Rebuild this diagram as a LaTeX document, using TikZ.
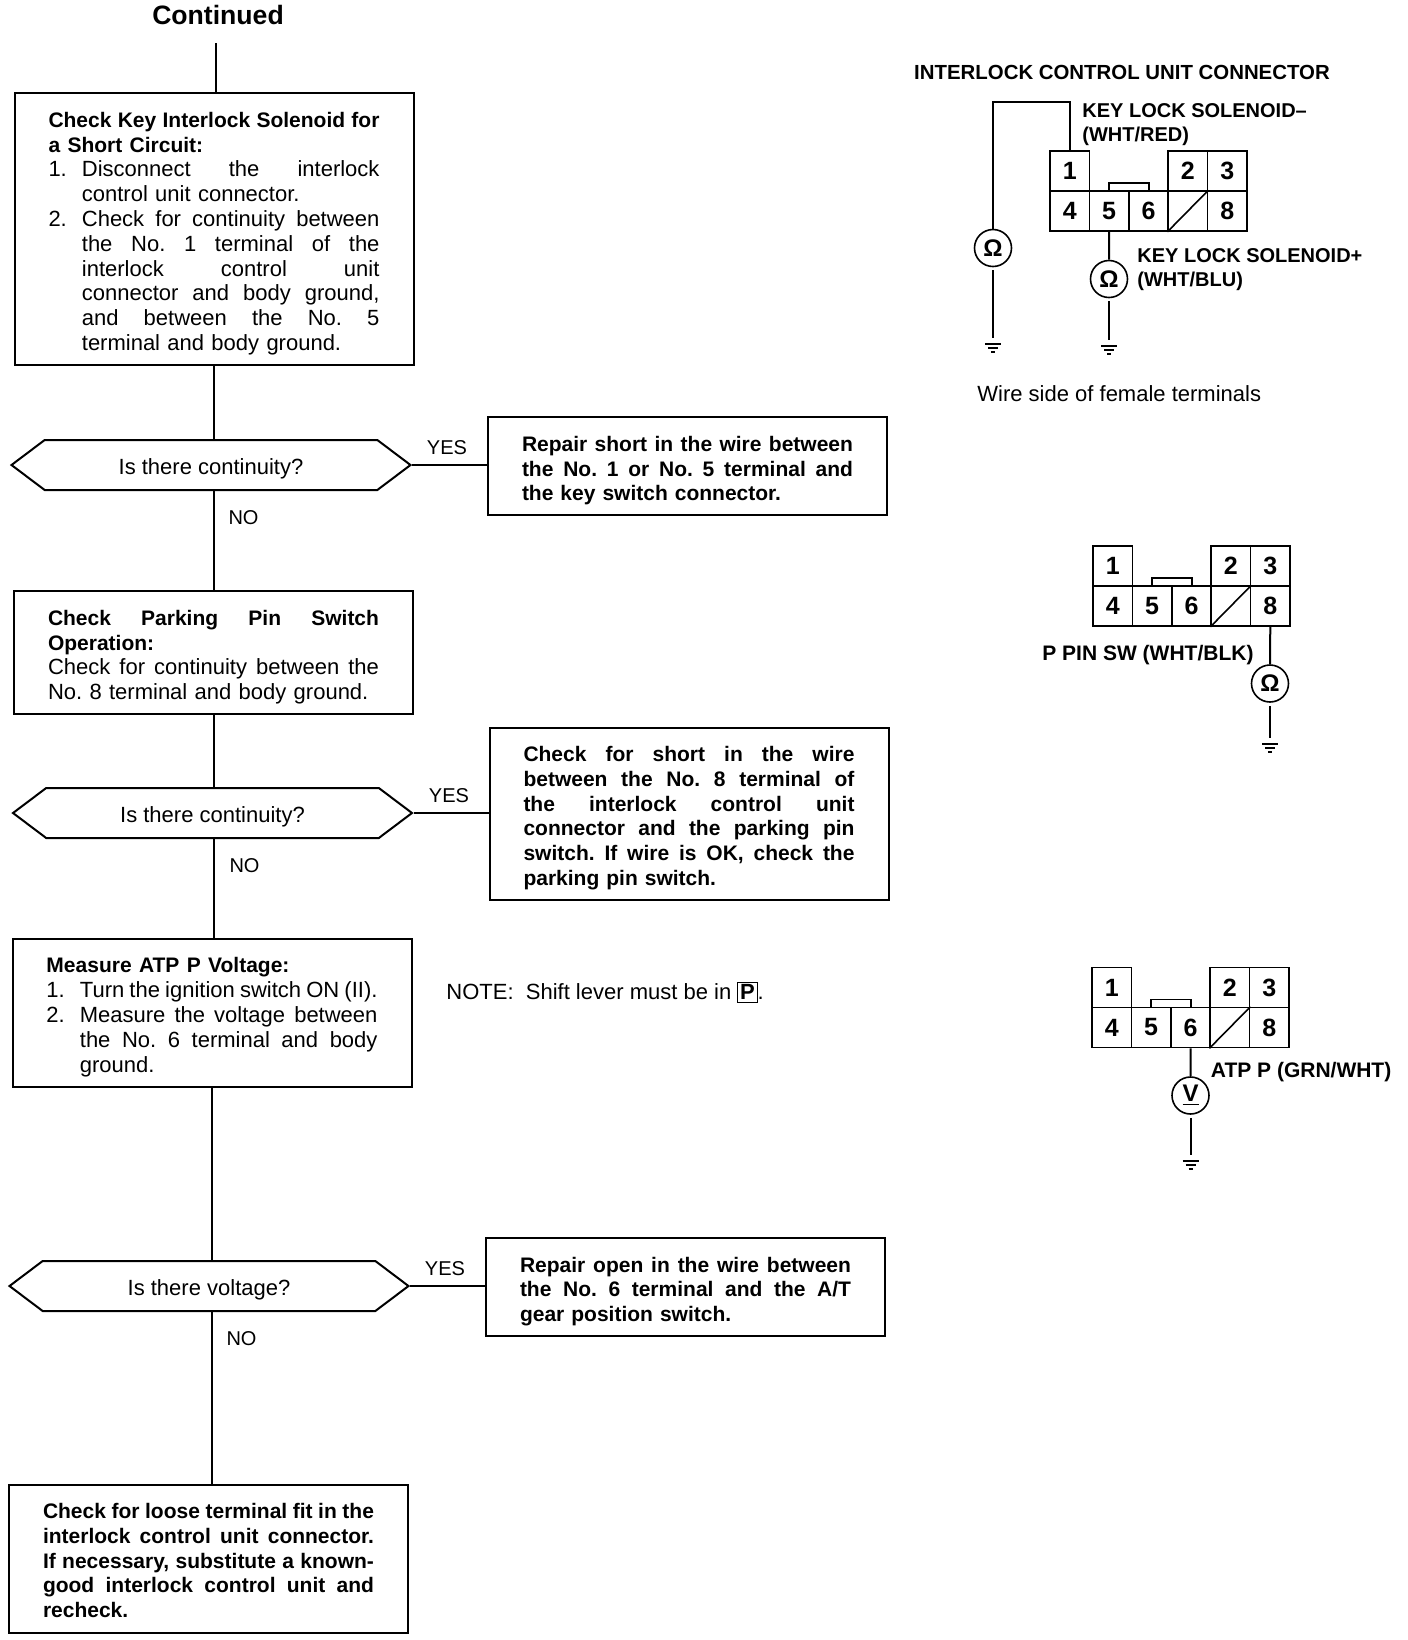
\documentclass[tikz,border=0pt]{standalone}
\usepackage{fontspec}
\setmainfont{Liberation Sans}
\usetikzlibrary{shapes.symbols,calc}

% justified line, numbered line, justified numbered line
\newcommand{\jline}[1]{\makebox[165.5pt][s]{\spaceskip=0pt\xspaceskip=0pt #1}}
\newcommand{\nline}[2]{\makebox[16.7pt][l]{#1}#2}
\newcommand{\jnline}[2]{\makebox[16.7pt][l]{#1}\makebox[148.8pt][s]{\spaceskip=0pt\xspaceskip=0pt #2}}
\newcommand{\headfont}{\fontsize{10.5}{12.4}\selectfont\bfseries}

\tikzset{
  basefont/.style={font=\fontsize{11}{12.4}\selectfont\frenchspacing},
  boldfont/.style={font=\headfont\frenchspacing},
  stepbox/.style={draw,line width=1pt,basefont,minimum width=199.5pt,text width=165.5pt,
    inner xsep=17pt,inner ysep=0pt,align=left,execute at begin node={\rule{0pt}{#1}}},
  stepbox/.default=12.2pt,
  boldbox/.style={stepbox=#1,boldfont},
  boldbox/.default=12.2pt,
  askbox/.style={draw,line width=1pt,basefont,shape=signal,signal to=east and west,
    signal pointer angle=74,minimum width=199.5pt,minimum height=25pt,inner xsep=0pt,inner ysep=0pt,
    text height=11.5pt,text depth=2pt},
  wire/.style={draw,line width=1pt},
  cell/.style={draw,line width=.8pt,minimum width=19.7pt,minimum height=20pt,inner sep=0pt,
    font=\fontsize{12.5}{12.5}\selectfont\bfseries},
  meter/.style={draw,circle,line width=.8pt,minimum size=18.5pt,inner sep=0pt,
    font=\fontsize{12}{12}\selectfont\bfseries},
  lbl/.style={inner sep=0pt,anchor=west,align=left,font=\fontsize{10}{12}\selectfont\bfseries},
  lblwide/.style={lbl,font=\fontsize{10.5}{12}\selectfont\bfseries},
  answer/.style={inner sep=0pt,font=\fontsize{10}{12}\selectfont},
  connbox/.pic={
    \foreach \lbl/\cx/\cy in {1/0/-20,2/3/-20,3/4/-20,4/0/20,5/1/20,6/2/20,8/4/20}
    {
      \node[cell] (-\lbl) at ({19.7+39.4*\cx},\cy) {\lbl};
    }
    \node[cell] (-blank) at ({19.7+39.4*3},20) {};
    \draw[line width=.8pt] (-blank.south west) -- (-blank.north east);
    \draw[line width=.6pt] (59,0) -- (59,-8) -- (99,-8) -- (99,0);
  },
  gnd/.pic={
    \draw[line width=.7pt] (-8,0) -- (8,0) (-5,4) -- (5,4) (-2,8) -- (2,8);
  }
}

\begin{document}
\begin{tikzpicture}[x=0.5pt,y=-0.5pt]
    \useasboundingbox (0,0) rectangle (1408,1640);

    \node[inner sep=0pt,font=\fontsize{13.3}{14}\selectfont\bfseries] (cont) at (218,15) {Continued};
    \coordinate (start) at (216,43);

    % boxes
    \node[stepbox,minimum height=136pt] (box1) at (214,229) {%
      {\headfont\jline{Check Key Interlock Solenoid for}\\
      a Short Circuit:}\\
      \jnline{1.}{Disconnect the interlock}\\
      \nline{}{control unit connector.}\\
      \jnline{2.}{Check for continuity between}\\
      \jnline{}{the No. 1 terminal of the}\\
      \jnline{}{interlock control unit}\\
      \jnline{}{connector and body ground,}\\
      \jnline{}{and between the No. 5}\\
      \nline{}{terminal and body ground.}};
    \node[stepbox,minimum height=61.5pt] (box2) at (213.5,652.5) {%
      {\headfont\jline{Check Parking Pin Switch}\\
      Operation:}\\
      \jline{Check for continuity between the}\\
      No. 8 terminal and body ground.};
    \node[stepbox,minimum height=74pt] (box3) at (212,1012.5) {%
      {\headfont Measure ATP P Voltage:}\\
      \jnline{1.}{Turn the ignition switch ON (II).}\\
      \jnline{2.}{Measure the voltage between}\\
      \jnline{}{the No. 6 terminal and body}\\
      \nline{}{ground.}};
    \node[boldbox=9.6pt,minimum height=74pt] (box4) at (208.5,1558.5) {%
      \jline{Check for loose terminal fit in the}\\
      \jline{interlock control unit connector.}\\
      \jline{If necessary, substitute a known-}\\
      \jline{good interlock control unit and}\\
      recheck.};
    \node[boldbox,minimum height=49pt] (fix1) at (687.5,466) {%
      \jline{Repair short in the wire between}\\
      \jline{the No. 1 or No. 5 terminal and}\\
      the key switch connector.};
    \node[boldbox,minimum height=86pt] (fix2) at (689,813.5) {%
      \jline{Check for short in the wire}\\
      \jline{between the No. 8 terminal of}\\
      \jline{the interlock control unit}\\
      \jline{connector and the parking pin}\\
      \jline{switch. If wire is OK, check the}\\
      parking pin switch.};
    \node[boldbox,minimum height=49pt] (fix3) at (685.5,1287) {%
      \jline{Repair open in the wire between}\\
      \jline{the No. 6 terminal and the A/T}\\
      gear position switch.};

    % decisions
    \foreach \name/\px/\py/\txt in {ask1/211/465/Is there continuity?,ask2/212.5/813/Is there continuity?,ask3/209/1286/Is there voltage?}
    {
      \node[askbox] (\name) at (\px,\py) {\txt};
    }

    % answers
    \foreach \name/\px/\py/\txt in {yes1/447/448/YES,no1/243.5/518/NO,yes2/449/796/YES,no2/244.5/866/NO,yes3/445/1269/YES,no3/241.5/1339/NO}
    {
      \node[answer] (\name) at (\px,\py) {\txt};
    }

    \node[lbl,basefont] (note) at (446,992) {NOTE:\ \ Shift lever must be in {\setlength{\fboxsep}{1pt}\fbox{\textbf{P}}}.};

    % flow lines
    \draw[wire] (start) -- (start |- box1.north);
    \foreach \a/\b in {box1/ask1,box2/ask2,box3/ask3}
    {
      \draw[wire] (\a.south) -- (\a.south |- \b.north);
    }
    \foreach \a/\b/\dx in {ask1/box2/1.5pt,ask2/box3/.5pt,ask3/box4/1.5pt}
    {
      \draw[wire] ([xshift=\dx]\a.south) -- ([xshift=\dx]\a.south |- \b.north);
    }
    \foreach \a/\b in {ask1/fix1,ask2/fix2,ask3/fix3}
    {
      \draw[wire] (\a.east) -- (\a.east -| \b.west);
    }

    % connectors
    \pic (c1) at (1050,191) {connbox};
    \pic (c2) at (1093,586) {connbox};
    \pic (c3) at (1092,1007.5) {connbox};

    % meters
    \node[meter] (m1) at (993,248) {Ω};
    \node[meter] (m2) at (1109,279) {Ω};
    \node[meter] (m3) at (1270,683.5) {Ω};
    \node[meter] (m4) at (1190.5,1095.5) {\underline{V}};

    \coordinate (bend1) at (993,102);
    \coordinate (g1) at (993,338);
    \coordinate (g2) at (1109,340);
    \coordinate (g3) at (1270,738);
    \coordinate (g4) at (1190.5,1155);

    \draw[wire] (c1-1.north) |- (bend1) -- (m1.north);
    \draw[wire] (c1-5.south) -- (m2.north);
    \draw[wire] (c2-8.south) -- (m3.north);
    \draw[wire] (c3-6.south) -- (m4.north);
    \foreach \m/\g in {m1/g1,m2/g2,m3/g3,m4/g4}
    {
      \draw[wire,shorten <=1.5pt] (\m.south) -- (\g);
      \pic at ([yshift=-3pt]\g) {gnd};
    }

    % labels
    \node[inner sep=0pt,font=\fontsize{10.2}{12}\selectfont\bfseries] (title) at (1122,72) {INTERLOCK CONTROL UNIT CONNECTOR};
    \node[lbl] (minus) at (1082,125) {KEY LOCK SOLENOID--\\(WHT/RED)};
    \node[lbl] (plus) at (1137,270) {KEY LOCK SOLENOID+\\(WHT/BLU)};
    \node[lblwide] (ppin) at (1042,655) {P PIN SW (WHT/BLK)};
    \node[lblwide] (atp) at (1210.5,1072) {ATP P (GRN/WHT)};
    \node[lbl,basefont] (side) at (977,394) {Wire side of female terminals};
\end{tikzpicture}
\end{document}
